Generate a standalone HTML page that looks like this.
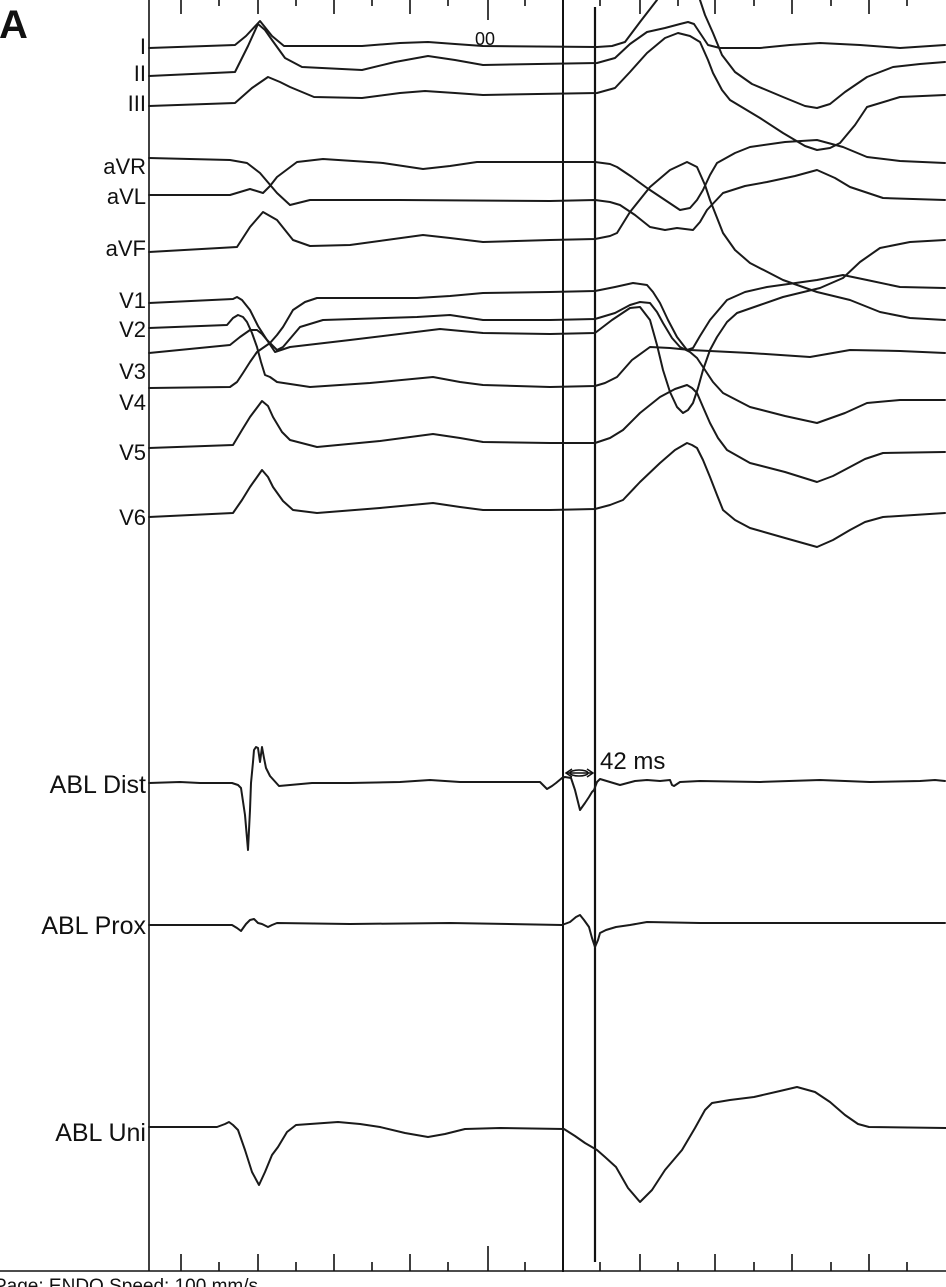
<!DOCTYPE html>
<html><head><meta charset="utf-8"><style>
html,body{margin:0;padding:0;background:#fff;}
svg{display:block;}
text{font-family:"Liberation Sans",Arial,sans-serif;fill:#111;}
</style></head><body>
<svg width="946" height="1287" viewBox="0 0 946 1287" xmlns="http://www.w3.org/2000/svg">
<g stroke="#111" stroke-width="1.6" fill="none">
<line x1="149" y1="0" x2="149" y2="1271"/>
<line x1="0" y1="1271" x2="946" y2="1271"/>
<line x1="563" y1="0" x2="563" y2="1272" stroke-width="2"/>
<line x1="595" y1="7" x2="595" y2="1262" stroke-width="2.2"/>
<path d="M181 0V14 M219 0V6 M258 0V14 M296 0V6 M334 0V14 M372 0V6 M410 0V14 M448 0V6 M488 0V20 M525 0V6 M600 0V6 M640 0V14 M678 0V6 M715 0V14 M754 0V6 M792 0V14 M831 0V6 M869 0V14 M907 0V6"/>
<path d="M181 1271V1254 M219 1271V1262 M258 1271V1254 M296 1271V1262 M334 1271V1254 M372 1271V1262 M410 1271V1254 M448 1271V1262 M488 1271V1246 M525 1271V1262 M600 1271V1262 M640 1271V1254 M678 1271V1262 M715 1271V1254 M754 1271V1262 M792 1271V1254 M831 1271V1262 M869 1271V1254 M907 1271V1262"/>
</g>
<g stroke="#1a1a1a" stroke-width="2" fill="none" stroke-linejoin="round" stroke-linecap="round">
<polyline points="149,48 235,45 246,36 260,21 272,36 284,46 362,46 400,43 428,42 455,44 483,46 597,47 612,46 625,42 640,22 657,0"/>
<polyline points="700,0 705,15 713,33 722,55 735,72 752,84 783,97 805,106 817,108 830,104 845,92 867,77 893,67 920,64 945,62"/>
<polyline points="149,76 235,72 248,46 258,24 265,30 272,40 285,58 302,67 362,70 395,62 428,56 455,60 483,65 597,63 615,58 630,44 647,32 665,28 680,24 688,22 694,24 700,33 708,45 720,48 760,48 790,45 820,43 860,45 900,48 945,45"/>
<polyline points="149,106 235,103 252,88 268,77 280,82 290,87 314,97 362,98 400,93 425,91 455,93 483,95 597,93 615,88 630,72 647,53 665,38 678,33 690,36 700,42 708,60 713,73 722,90 730,100 760,118 783,133 805,146 817,150 830,148 840,143 855,125 867,107 900,97 945,95"/>
<polyline points="149,158 230,160 247,163 260,173 277,193 290,205 310,200 400,200 550,201 595,200 610,202 620,205 635,215 650,227 665,230 677,228 693,230 700,222 707,210 723,193 745,186 767,182 795,176 817,170 835,178 850,187 883,198 945,200"/>
<polyline points="149,195 230,195 250,189 263,193 270,186 277,177 297,162 323,159 383,163 423,169 450,166 477,162 550,162 595,162 610,164 617,167 632,177 647,188 665,200 680,210 690,208 697,200 703,190 710,175 717,163 735,153 750,147 785,142 817,140 843,147 867,157 900,161 945,163"/>
<polyline points="149,252 237,247 250,227 263,212 277,220 293,240 310,246 350,245 423,235 450,238 483,242 550,240 595,239 610,236 617,233 630,212 650,187 670,170 687,162 697,167 705,185 710,200 723,233 735,250 750,263 783,280 817,292 850,300 880,312 910,318 945,320"/>
<polyline points="149,303 233,299 237,297 242,300 250,310 258,326 267,340 277,350 283,347 300,327 323,320 417,317 450,315 483,320 550,320 595,319 615,313 630,305 640,302 650,303 657,312 663,323 672,338 680,347 690,352 697,358 703,367 713,382 723,393 750,407 785,416 817,423 845,413 867,403 900,400 945,400"/>
<polyline points="149,328 227,325 233,318 238,315 243,317 247,322 252,333 257,347 261,362 265,375 270,377 277,382 310,387 370,383 433,377 460,382 483,385 550,387 595,386 605,383 617,377 632,360 650,347 670,348 690,350 750,353 810,357 850,350 900,351 945,353"/>
<polyline points="149,353 230,345 240,337 250,330 257,330 262,334 267,340 275,352 290,347 350,340 440,329 483,333 550,334 595,333 612,320 630,308 640,307 650,320 657,345 663,370 670,392 677,407 683,413 688,410 693,403 698,388 703,370 710,350 717,337 727,322 737,313 760,305 783,297 820,288 843,278 860,262 880,248 910,242 945,240"/>
<polyline points="149,388 230,387 237,382 243,373 250,362 257,352 270,343 277,335 283,327 293,310 305,302 317,298 417,298 450,296 483,293 550,292 595,291 615,287 633,283 647,285 653,292 660,303 668,320 677,337 687,350 693,348 700,336 710,320 727,300 745,292 767,287 817,280 843,275 867,280 900,287 945,288"/>
<polyline points="149,448 233,445 242,430 250,417 262,401 268,406 273,417 282,432 290,440 317,447 380,441 433,434 460,438 483,442 550,443 595,443 610,438 623,430 640,413 660,397 675,389 687,385 692,388 697,393 703,407 710,423 718,438 727,450 750,463 785,472 817,482 833,476 850,467 865,459 883,453 945,452"/>
<polyline points="149,517 233,513 242,500 250,487 262,470 268,477 273,487 283,501 293,510 317,513 380,508 433,503 460,507 483,510 550,510 595,509 610,505 623,500 640,482 660,463 675,450 687,443 692,445 697,448 703,460 710,477 717,495 723,510 735,520 750,528 785,538 817,547 833,540 850,530 865,522 883,517 945,513"/>
<polyline points="149,783 180,782 200,783 232,783 238,785 241,788 245,815 248,850 250,810 251,783 253,762 254,750 256,747 258,748 260,762 262,747 264,758 266,768 270,776 279,786 312,783 350,783 400,782 430,780 460,782 500,782 540,782 544,786 547,789 552,786 556,783 562,778 565,777 571,778 575,790 580,810 585,803 589,797 592,792 594,790 597,782 600,779 610,782 620,785 635,781 647,780 660,781 670,780 672,785 674,786 680,782 700,781 760,782 820,780 870,782 920,781 935,780 945,781"/>
<polyline points="149,925 200,925 232,925 237,928 241,931 246,924 250,920 254,919 258,923 262,924 268,927 272,925 277,923 350,924 450,923 562,925 570,922 576,917 580,915 584,920 589,927 592,938 595,947 598,940 600,933 606,930 616,927 630,925 647,922 700,923 800,923 945,923"/>
<polyline points="149,1127 217,1127 225,1124 229,1122 233,1125 238,1130 245,1150 252,1172 259,1185 265,1172 272,1155 278,1147 287,1132 296,1125 338,1122 360,1124 380,1127 405,1133 428,1137 445,1134 465,1129 500,1128 564,1129 575,1136 585,1143 597,1150 605,1157 616,1167 628,1188 640,1202 652,1190 665,1170 682,1150 695,1128 705,1110 712,1103 730,1100 754,1097 780,1091 797,1087 815,1092 830,1102 845,1115 858,1124 869,1127 946,1128"/>
</g>
<g stroke="#111" stroke-width="1.5" fill="none">
<line x1="566" y1="773" x2="593" y2="773"/>
<path d="M572 769 L566 773 L572 777 M587 769 L593 773 L587 777"/>
<ellipse cx="579" cy="773" rx="9" ry="3"/>
</g>
<text x="600" y="769" font-size="24">42 ms</text>
<text x="475" y="45" font-size="18">00</text>
<text x="-1" y="38" font-size="40" font-weight="bold">A</text>
<g font-size="22" text-anchor="end">
<text x="146" y="54">I</text>
<text x="146" y="81">II</text>
<text x="146" y="111">III</text>
<text x="146" y="174">aVR</text>
<text x="146" y="204">aVL</text>
<text x="146" y="256">aVF</text>
<text x="146" y="308">V1</text>
<text x="146" y="337">V2</text>
<text x="146" y="379">V3</text>
<text x="146" y="410">V4</text>
<text x="146" y="460">V5</text>
<text x="146" y="525">V6</text>
</g>
<g font-size="25" text-anchor="end">
<text x="146" y="793">ABL Dist</text>
<text x="146" y="934">ABL Prox</text>
<text x="146" y="1141">ABL Uni</text>
</g>
<text x="-6" y="1292" font-size="19">Page: ENDO   Speed: 100 mm/s</text>
</svg>
</body></html>
